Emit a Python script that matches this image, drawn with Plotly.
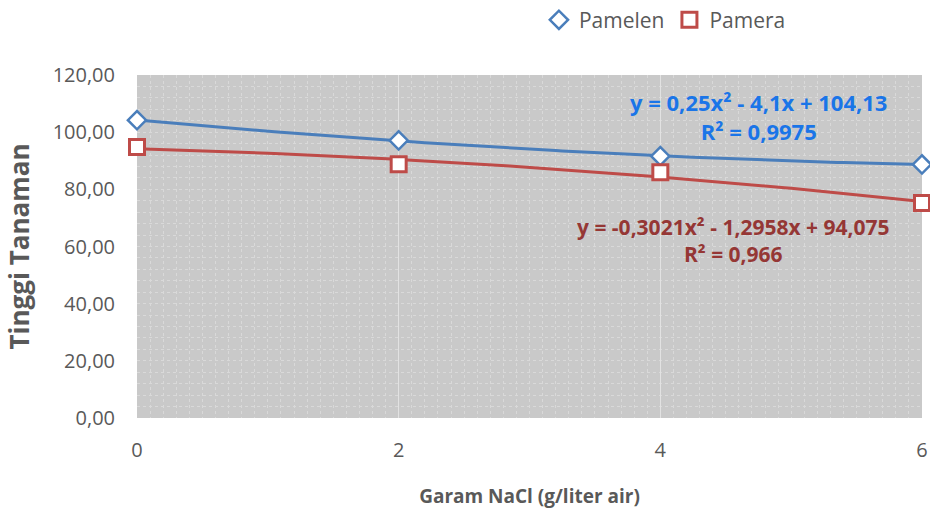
import numpy as np
import plotly.graph_objects as go

x_vals = [0, 2, 4, 6]
pamelen = [104.2, 97.1, 91.6, 88.7]
pamera = [94.8, 88.8, 86.0, 75.2]
y_ticks = [0, 20, 40, 60, 80, 100, 120]

eq_pamelen = "y = 0,25x² - 4,1x + 104,13<br>R² = 0,9975"
eq_pamera = "y = -0,3021x² - 1,2958x + 94,075<br>R² = 0,966"

BLUE = "#4a7ebb"
RED = "#be4b48"
FONT = "Open Sans, Liberation Sans, sans-serif"
GRAY = "#595959"

xs = np.linspace(0, 6, 121)
fit_b = np.polyval(np.polyfit(x_vals, pamelen, 2), xs)
fit_r = np.polyval(np.polyfit(x_vals, pamera, 2), xs)

fig = go.Figure()
fig.add_trace(go.Scatter(x=xs, y=fit_b, mode="lines", line=dict(color=BLUE, width=3),
                         showlegend=False, hoverinfo="skip"))
fig.add_trace(go.Scatter(x=xs, y=fit_r, mode="lines", line=dict(color=RED, width=3),
                         showlegend=False, hoverinfo="skip"))
fig.add_trace(go.Scatter(x=x_vals, y=pamelen, mode="markers", name="Pamelen",
                         marker=dict(symbol="diamond", size=14, color="white",
                                     line=dict(color=BLUE, width=2.5)),
                         cliponaxis=False))
fig.add_trace(go.Scatter(x=x_vals, y=pamera, mode="markers", name="Pamera",
                         marker=dict(symbol="square", size=15, color="white",
                                     line=dict(color=RED, width=3)),
                         cliponaxis=False))

fig.add_annotation(x=4.75, y=105.6, xref="x", yref="y", text="<b>" + eq_pamelen + "</b>",
                   showarrow=False, font=dict(family=FONT, size=22, color="#1a75e8"),
                   align="center")
fig.add_annotation(x=4.56, y=62.2, xref="x", yref="y", text="<b>" + eq_pamera + "</b>",
                   showarrow=False, font=dict(family=FONT, size=21, color="#953735"),
                   align="center")

fig.update_layout(
    width=930, height=509,
    margin=dict(l=137, r=8, t=75, b=91, autoexpand=False),
    paper_bgcolor="white",
    plot_bgcolor="#c9c9c9",
    separators=",.",
    font=dict(family=FONT, color=GRAY, size=20),
    legend=dict(orientation="h", x=0.512, y=1.16, xanchor="left", yanchor="middle",
                font=dict(size=21, color=GRAY), itemwidth=30, tracegroupgap=0,
                bgcolor="rgba(0,0,0,0)"),
    showlegend=True,
)

fig.update_xaxes(range=[0, 6], tickvals=x_vals, ticktext=[str(v) for v in x_vals],
                 automargin=False,
                 showgrid=True, gridcolor="#e2e2e2", gridwidth=1, zeroline=False,
                 showline=False, ticks="outside", ticklen=14, tickcolor="rgba(0,0,0,0)",
                 tickfont=dict(size=20, color=GRAY),
                 minor=dict(dtick=0.1, showgrid=True, gridcolor="#d9d9d9", griddash="dot", gridwidth=1),
                 title=dict(text="<b>Garam NaCl (g/liter air)</b>", font=dict(size=19, color=GRAY),
                            standoff=30))
fig.update_yaxes(range=[0, 120], tickvals=y_ticks, tickformat=".2f",
                 automargin=False,
                 showgrid=False, zeroline=False, showline=False,
                 ticks="outside", ticklen=17, tickcolor="rgba(0,0,0,0)",
                 tickfont=dict(size=20, color=GRAY),
                 minor=dict(dtick=4, showgrid=True, gridcolor="#d9d9d9", griddash="dot", gridwidth=1),
                 title=dict(text="<b>Tinggi Tanaman</b>", font=dict(size=26, color=GRAY),
                            standoff=15))

fig.write_html("out.html", config={"displayModeBar": False},
               post_script="document.body.style.margin='0';document.body.style.overflow='hidden';")
